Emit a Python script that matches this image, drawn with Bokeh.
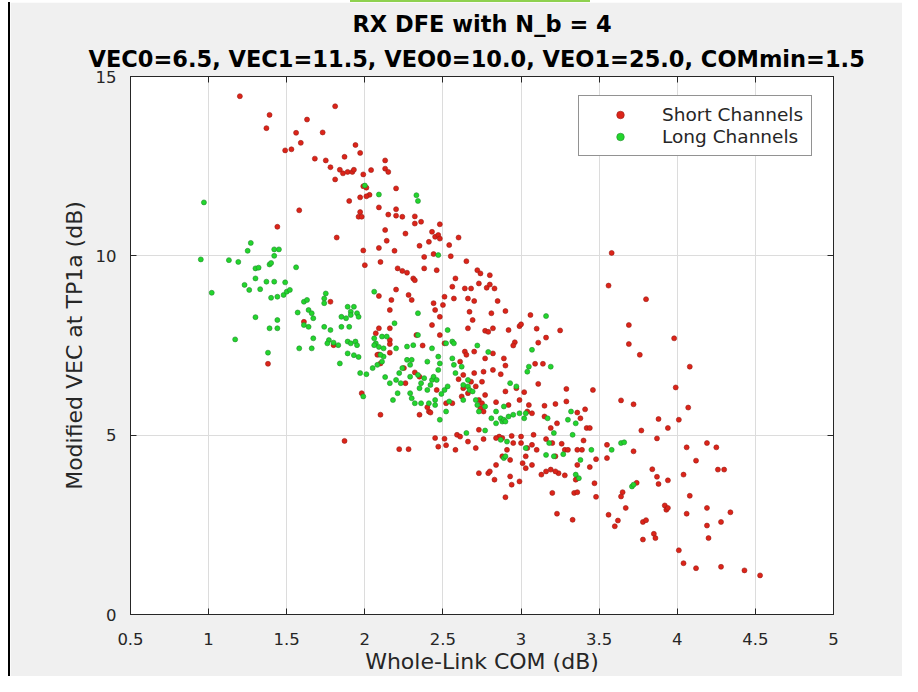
from bokeh.plotting import figure
from bokeh.models import Range1d, LinearAxis, FixedTicker, Title, CustomLabelingPolicy, Div
from bokeh.layouts import column, row
from bokeh.embed import file_html
from bokeh.resources import INLINE

# ---------------- data ----------------
short_channels = [
    (1.20,14.45),(1.39,13.93),(1.37,13.56),(1.81,14.17),(1.63,13.80),(1.56,13.43),(1.73,13.44),(1.59,13.15),
    (1.49,12.94),(1.53,12.97),(1.68,12.71),(1.75,12.66),(1.78,12.47),(1.84,12.40),(1.86,12.30),(1.89,12.34),
    (1.92,12.34),(1.93,12.40),(1.81,12.13),(1.94,13.09),(1.97,12.87),(1.87,12.76),(1.99,12.27),(2.04,12.39),
    (2.13,12.66),(2.13,12.43),(2.15,12.34),(1.99,11.94),(2.01,11.90),(2.03,11.70),(2.01,11.66),(1.97,11.63),
    (1.90,11.53),(2.20,11.88),(2.09,11.35),(2.15,11.15),(2.20,11.30),(2.20,11.12),(2.24,11.09),(1.97,11.22),
    (1.96,11.09),(1.98,11.09),(1.58,11.27),(1.44,10.81),(1.82,10.51),(2.32,11.10),(2.32,10.90),(2.36,10.95),
    (2.13,10.72),(2.14,10.42),(2.26,10.62),(2.48,10.88),(2.43,10.67),(2.45,10.53),(2.47,10.58),(2.48,10.48),
    (2.41,10.39),(2.60,10.51),(2.54,10.30),(2.35,10.28),(2.09,10.22),(2.19,10.14),(1.99,10.15),(2.38,9.97),
    (2.44,10.05),(2.55,9.99),(2.65,9.85),(2.00,9.74),(2.10,9.83),(2.21,9.65),(2.24,9.58),(2.27,9.53),
    (2.31,9.37),(2.32,9.32),(2.38,9.65),(2.46,9.60),(2.72,9.60),(2.74,9.51),(2.80,9.46),(2.58,9.37),
    (2.56,9.14),(2.64,9.09),(2.68,9.09),(2.73,9.23),(2.78,9.11),(2.80,9.20),(2.83,9.09),(2.20,9.06),
    (2.09,8.88),(2.28,8.91),(2.30,8.77),(2.17,8.77),(2.16,8.49),(2.44,8.68),(2.45,8.49),(2.50,8.63),
    (2.51,8.86),(2.57,8.81),(2.66,8.81),(2.70,8.74),(2.85,8.74),(2.67,8.44),(2.81,8.40),(2.90,8.46),
    (2.69,8.21),(2.66,7.98),(2.48,8.30),(2.43,8.07),(1.61,8.16),(1.78,8.72),(1.80,7.51),(2.09,7.98),
    (2.07,7.84),(2.16,7.98),(2.33,7.79),(2.37,7.50),(2.51,7.56),(2.48,7.79),(2.16,7.65),(2.09,7.25),
    (2.16,7.30),(3.06,8.35),(2.99,8.04),(3.00,8.09),(2.92,7.93),(2.77,7.91),(2.79,7.88),(2.82,7.98),
    (3.10,7.97),(3.25,7.92),(3.16,7.72),(2.96,7.59),(2.95,7.50),(3.11,7.58),(2.64,7.33),(3.58,10.08),
    (3.56,9.17),(3.80,8.79),(3.69,8.07),(3.69,7.54),(3.76,7.24),(3.98,7.70),
    (1.38,6.99),(1.98,6.17),(2.10,5.57),(1.87,4.84),(2.22,4.61),(2.28,4.61),(2.45,4.92),(2.51,4.90),
    (2.47,4.68),(2.52,4.72),(2.58,4.59),(2.59,5.01),(2.61,4.96),(2.35,5.57),(2.41,5.66),(2.42,5.63),
    (2.40,5.78),(2.56,5.89),(2.52,5.89),(2.32,6.75),(2.35,6.63),(2.61,7.05),(2.60,6.56),(2.66,6.17),
    (2.08,7.24),(2.16,7.54),(2.10,7.00),(2.25,6.87),(2.26,6.45),(2.46,6.26),
    (2.65,7.24),(2.70,7.33),(2.77,7.14),(2.82,7.28),(2.89,7.14),(2.90,6.94),(2.87,6.70),(2.82,6.82),
    (2.76,6.77),(2.70,6.73),(2.63,6.68),(2.68,6.49),(2.75,6.49),(2.71,6.36),(2.63,6.31),(2.62,6.08),
    (2.73,5.98),(2.77,6.12),(2.75,5.89),(2.74,5.75),(2.76,5.66),(2.84,5.92),(2.90,6.22),(2.97,6.31),
    (2.99,5.98),(2.92,5.84),(3.05,5.84),(3.02,6.20),(3.11,6.43),(3.09,6.99),(3.14,6.99),(3.04,5.66),
    (3.07,5.61),(3.15,5.82),(3.22,5.87),(3.29,6.29),(3.29,5.94),(3.46,6.26),(3.36,5.63),(3.41,5.72),
    (3.38,5.47),(3.42,5.20),(3.44,5.20),(3.23,5.33),(3.15,5.52),(3.19,5.20),(3.08,5.01),(2.94,4.98),
    (2.88,4.92),(2.86,4.96),(2.84,4.92),(2.95,4.78),(3.00,4.96),(3.00,4.78),(3.04,4.64),(3.07,4.73),
    (3.03,4.41),(3.01,4.22),(3.07,4.17),(3.10,4.59),(3.16,4.89),(3.20,4.78),(3.26,4.76),(3.28,4.59),
    (3.22,4.41),(3.30,4.59),(3.19,4.04),(3.24,3.94),(3.22,3.99),(3.16,3.99),(3.36,4.59),(3.40,4.85),
    (3.39,4.59),(3.48,4.33),(3.36,4.17),(3.36,3.80),(3.35,3.76),(3.47,3.66),(3.55,4.73),(3.55,4.36),
    (2.73,3.94),(2.79,3.94),(2.83,3.76),(2.93,3.85),(2.94,3.62),(2.84,4.17),(2.76,4.89),(2.66,4.82),
    (2.73,5.15),(2.71,4.64),(2.91,4.59),(2.93,4.31),(2.88,4.41),(2.99,3.71),(3.13,3.90),
    (4.08,6.91),(3.99,6.33),(3.64,5.97),(3.72,5.86),(4.07,5.77),(3.88,5.45),(4.01,5.43),(3.77,5.13),
    (3.94,5.20),(3.87,4.91),(3.72,4.55),(4.06,4.66),(4.19,4.78),(4.25,4.66),(4.12,4.29),(3.84,4.05),
    (3.87,3.84),(3.88,3.64),(3.94,3.74),(4.04,3.90),(4.26,4.04),(4.30,4.04),(3.74,3.67),(3.65,3.41),
    (3.64,3.29),(3.67,2.97),(3.56,2.78),(3.62,2.62),(3.60,2.46),(3.78,2.58),(3.80,2.63),(3.78,2.09),
    (3.85,2.25),(3.86,2.13),(3.92,3.04),(3.93,2.92),(3.94,2.97),(4.08,3.31),(4.06,2.81),(4.19,2.97),
    (4.19,2.48),(4.20,2.13),(4.28,2.58),(4.34,2.85),(4.01,1.79),(4.04,1.43),(4.12,1.29),(4.28,1.33),
    (4.43,1.23),(4.53,1.09),(3.48,3.28),(3.33,2.64),(3.23,2.81),(3.20,3.39),(3.34,3.39),(3.36,3.41),
    (2.90,3.27),(3.44,4.11),(2.80,3.99),(3.28,3.88),(3.03,4.08),
]

long_channels = [
    (0.97,11.49),(0.95,9.90),(1.02,8.97),(1.13,9.88),(1.19,9.83),(1.17,7.67),(1.27,10.36),(1.25,10.14),
    (1.30,9.65),(1.32,9.67),(1.30,9.37),(1.23,9.19),(1.26,9.05),(1.33,9.07),(1.37,9.28),(1.42,9.28),
    (1.39,9.76),(1.40,9.80),(1.42,10.18),(1.45,10.18),(1.42,10.00),(1.49,9.26),(1.40,8.83),(1.44,8.86),
    (1.48,8.91),(1.50,9.00),(1.52,9.05),(1.56,9.68),(1.30,8.29),(1.44,8.21),(1.39,7.98),(1.44,7.98),
    (1.38,7.30),(1.58,7.42),(1.67,7.70),(1.66,7.42),(1.57,8.42),(1.61,8.72),(1.63,8.77),(1.64,8.49),
    (1.66,8.40),(1.67,8.26),(1.61,8.07),(1.64,8.02),(1.75,8.95),(1.74,8.81),(1.74,8.68),(1.74,8.02),
    (1.78,7.93),(1.77,7.65),(1.80,7.58),(1.76,7.56),(1.83,7.51),(1.89,8.58),(1.93,8.58),(1.91,8.44),
    (1.85,8.30),(1.88,8.26),(1.91,8.35),(1.95,8.40),(1.96,8.30),(1.85,8.02),(1.90,8.02),(1.89,7.61),
    (1.91,7.56),(1.94,7.61),(1.95,7.51),(1.89,7.28),(1.93,7.23),(1.96,7.18),(1.84,7.00),(1.97,6.73),
    (2.01,6.70),(1.99,6.08),(2.06,9.00),(2.00,11.96),(2.09,11.71),(2.33,11.69),(2.34,11.53),(2.47,10.02),
    (2.34,8.40),(2.19,8.12),(2.06,7.70),(2.07,7.56),(2.11,7.75),(2.14,7.75),(2.06,7.51),(2.09,7.46),
    (2.12,7.42),(2.20,7.42),(2.27,7.47),(2.31,7.51),(2.34,7.79),(2.43,7.42),(2.53,7.93),(2.56,7.61),
    (2.52,7.56),(2.57,7.56),(2.72,7.50),(2.79,7.32),(3.16,8.32),(3.07,7.38),
    (2.05,6.87),(2.08,6.96),(2.11,7.05),(2.12,7.19),(2.10,7.24),(2.13,6.62),(2.16,6.45),(2.18,5.98),
    (2.21,6.17),(2.20,6.54),(2.23,6.45),(2.22,6.73),(2.24,6.87),(2.27,7.10),(2.29,6.96),(2.30,7.10),
    (2.29,6.63),(2.34,6.68),(2.36,6.45),(2.38,6.59),(2.40,7.05),(2.42,6.40),(2.43,6.54),(2.44,6.63),
    (2.46,6.54),(2.47,6.82),(2.47,7.19),(2.48,7.00),(2.45,5.98),(2.41,5.89),(2.45,5.84),(2.36,5.89),
    (2.32,5.89),(2.29,6.17),(2.30,6.03),(2.35,6.31),(2.40,6.26),(2.49,6.15),(2.51,6.26),(2.53,6.36),
    (2.54,5.94),(2.52,5.66),(2.48,5.43),(2.56,7.14),(2.57,6.96),(2.58,6.73),(2.66,6.54),(2.63,5.98),
    (2.62,6.91),
    (2.63,6.40),(2.66,6.36),(2.67,6.26),(2.69,6.22),(2.71,5.98),(2.72,5.84),(2.73,5.66),(2.77,5.80),
    (2.81,5.47),(2.84,5.66),(2.84,5.33),(2.87,5.47),(2.88,5.38),(2.89,5.43),(2.90,5.38),(2.92,5.52),
    (2.95,5.57),(2.99,5.61),(2.89,5.80),(2.93,6.45),(2.97,6.36),(3.03,5.61),(3.02,5.47),(3.04,6.77),
    (3.05,6.91),(3.19,6.91),(3.17,5.47),(3.18,4.78),(3.21,5.06),(3.30,5.43),(3.33,5.01),(3.35,5.33),
    (3.16,4.45),(3.21,4.41),(3.03,4.64),(2.89,4.36),(2.90,4.41),(2.87,4.87),(2.91,4.82),(2.77,5.13),
    (2.65,5.06),(3.38,4.31),(3.45,4.59),(3.35,3.90),(3.37,3.80),(3.32,5.66),(3.27,4.47),
    (3.64,4.78),(3.66,4.80),(3.58,4.59),(3.71,3.57),(3.72,3.62),
]

short_x = [pt[0] for pt in short_channels]
short_y = [pt[1] for pt in short_channels]
long_x = [pt[0] for pt in long_channels]
long_y = [pt[1] for pt in long_channels]

x_ticks = [0.5, 1, 1.5, 2, 2.5, 3, 3.5, 4, 4.5, 5]
x_tick_labels = ["0.5", "1", "1.5", "2", "2.5", "3", "3.5", "4", "4.5", "5"]
y_ticks = [0, 5, 10, 15]
y_tick_labels = ["0", "5", "10", "15"]

title_line1 = "RX DFE with N_b = 4"
title_line2 = "VEC0=6.5, VEC1=11.5, VEO0=10.0, VEO1=25.0, COMmin=1.5"
x_label = "Whole-Link COM (dB)"
y_label = "Modified VEC at TP1a (dB)"
series_names = ["Short Channels", "Long Channels"]

# ---------------- style ----------------
FONT = "DejaVu Sans"
TXT = "#262626"
BG = "#f0f0f0"

W, H = 892, 674
ML, MT, FW, FH = 120, 74, 703, 539

p = figure(width=W, height=H, x_range=Range1d(0.5, 5), y_range=Range1d(0, 15),
           output_backend="svg", toolbar_location=None, title_location=None,
           min_border_left=ML, min_border_right=W - ML - FW,
           min_border_top=MT, min_border_bottom=H - MT - FH,
           background_fill_color="white", border_fill_color=BG,
           outline_line_color=TXT, outline_line_width=1)

xt = FixedTicker(ticks=x_ticks)
yt = FixedTicker(ticks=y_ticks)

for ax, tk, labels in ((p.xaxis[0], xt, x_tick_labels), (p.yaxis[0], yt, y_tick_labels)):
    ax.ticker = tk
    ax.major_label_overrides = {t: l for t, l in zip(tk.ticks, labels)}
    ax.major_tick_in = 6
    ax.major_tick_out = 0
    ax.minor_tick_line_color = None
    ax.axis_line_color = TXT
    ax.major_tick_line_color = TXT
    ax.major_label_text_font = FONT
    ax.major_label_text_font_size = "16.5px"
    ax.major_label_text_color = TXT
    ax.axis_label_text_font = FONT
    ax.axis_label_text_font_size = "22px"
    ax.axis_label_text_font_style = "normal"
    ax.axis_label_text_color = TXT

p.xaxis.axis_label = x_label
p.yaxis.axis_label = y_label
p.xaxis.major_label_standoff = 18
p.yaxis.major_label_standoff = 14
p.xaxis.axis_label_standoff = 1
p.yaxis.axis_label_standoff = 6

p.xgrid.ticker = xt
p.ygrid.ticker = yt
p.xgrid.grid_line_color = "#dcdcdc"
p.ygrid.grid_line_color = "#dcdcdc"

no_labels = CustomLabelingPolicy(code="""
try {
  for (let i = 0; i < indices.size; i++) { indices.unset(i) }
} catch (e) {}
return indices
""")

top_axis = LinearAxis(ticker=FixedTicker(ticks=x_ticks), major_label_policy=no_labels,
                      major_label_text_font_size="1px",
                      major_tick_in=6, major_tick_out=0, minor_tick_line_color=None,
                      axis_line_color=TXT, major_tick_line_color=TXT, major_label_standoff=0)
right_axis = LinearAxis(ticker=FixedTicker(ticks=y_ticks), major_label_policy=no_labels,
                        major_label_text_font_size="1px",
                        major_tick_in=6, major_tick_out=0, minor_tick_line_color=None,
                        axis_line_color=TXT, major_tick_line_color=TXT, major_label_standoff=0)
p.add_layout(top_axis, "above")
p.add_layout(right_axis, "right")

t2 = Title(text=title_line2, align="left", text_font=FONT, text_font_size="22.5px",
           text_font_style="bold", text_color="black", standoff=2, offset=-42)
p.add_layout(t2, "above")
t1 = Title(text=title_line1, align="left", text_font=FONT, text_font_size="22.5px",
           text_font_style="bold", text_color="black", standoff=11, offset=222)
p.add_layout(t1, "above")

p.scatter(short_x, short_y, marker="circle", size=5, fill_color="#dc2419",
          line_color="#9a1d16", line_width=0.6, legend_label=series_names[0])
p.scatter(long_x, long_y, marker="circle", size=5, fill_color="#22d62c",
          line_color="#228a2e", line_width=0.6, legend_label=series_names[1])

lg = p.legend[0]
lg.location = (448, 458)
lg.margin = 0
lg.padding = 8
lg.spacing = 1
lg.glyph_width = 66
lg.glyph_height = 19
lg.label_height = 19
lg.label_standoff = 9
lg.label_text_font = FONT
lg.label_text_font_size = "18.5px"
lg.label_text_color = TXT
lg.border_line_color = TXT
lg.border_line_width = 1
lg.background_fill_color = "white"
lg.background_fill_alpha = 1

# screenshot frame around the figure: white strip with a green tab on top, black edge on the left
top_gap = Div(width=350, height=2, margin=0)
green_tab = Div(width=240, height=2, margin=0, styles={"background-color": "#8fd14f"})
left_gap = Div(width=8, height=H, margin=0)
left_edge = Div(width=2, height=H, margin=0, styles={"background-color": "#000000"})

layout = column(row(top_gap, green_tab, spacing=0),
                row(left_gap, left_edge, p, spacing=0), spacing=0)

open("out.html", "w").write(file_html(layout, INLINE))
